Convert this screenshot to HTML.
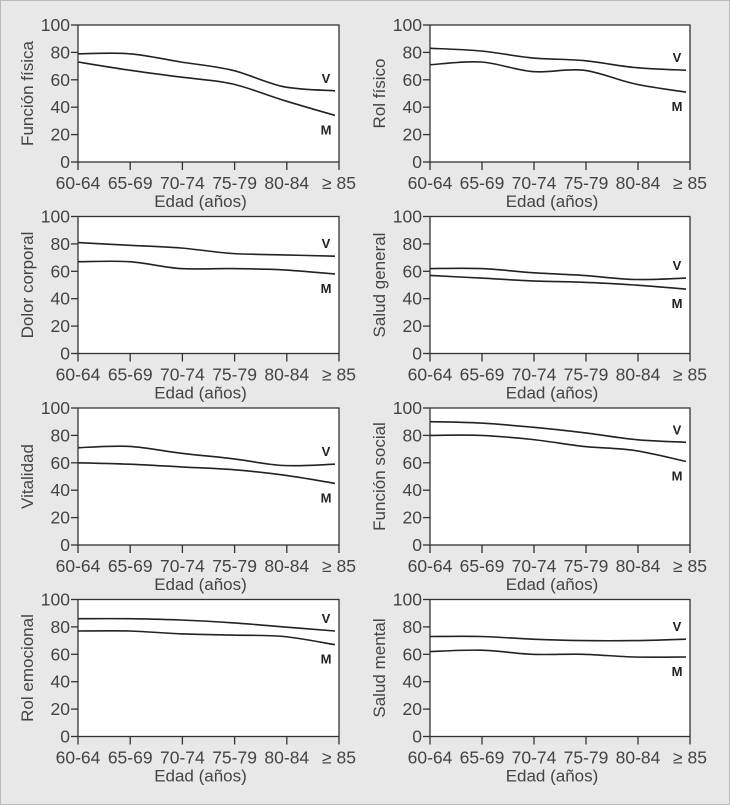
<!DOCTYPE html>
<html><head><meta charset="utf-8"><style>
html,body{margin:0;padding:0;background:#e8e8e8;}
svg{display:block;font-family:"Liberation Sans",sans-serif;}
</style></head><body>
<svg id="c" width="730" height="805">
<rect x="0.5" y="0.5" width="729" height="804" fill="#e8e8e8" stroke="#bbb"/>
</svg>
<script>
const categories = ["60-64","65-69","70-74","75-79","80-84","≥ 85"];
const yTicks = [0,20,40,60,80,100];
const panelTitles = ["Función física","Rol físico","Dolor corporal","Salud general","Vitalidad","Función social","Rol emocional","Salud mental"];
const seriesV = [
 [79,79,73,67,55,52],
 [83,81,76,74,69,67],
 [81,79,77,73,72,71],
 [62,62,59,57,54,55],
 [71,72,67,63,58,59],
 [90,89,86,82,77,75],
 [86,86,85,83,80,77],
 [73,73,71,70,70,71]
];
const seriesM = [
 [73,67,62,57,45,34],
 [71,73,66,67,57,51],
 [67,67,62,62,61,58],
 [57,55,53,52,50,47],
 [60,59,57,55,51,45],
 [80,80,77,72,69,61],
 [77,77,75,74,73,67],
 [62,63,60,60,58,58]
];
const NS="http://www.w3.org/2000/svg";
const svg=document.getElementById('c');
function mk(tag,attrs,parent){const e=document.createElementNS(NS,tag);for(const k in attrs)e.setAttribute(k,attrs[k]);(parent||svg).appendChild(e);return e;}
function smooth(pts){let d="M"+pts[0][0]+","+pts[0][1];for(let i=0;i<pts.length-1;i++){const p0=pts[Math.max(0,i-1)],p1=pts[i],p2=pts[i+1],p3=pts[Math.min(pts.length-1,i+2)];const c1=[p1[0]+(p2[0]-p0[0])/6,p1[1]+(p2[1]-p0[1])/6],c2=[p2[0]-(p3[0]-p1[0])/6,p2[1]-(p3[1]-p1[1])/6];d+=" C"+c1[0].toFixed(1)+","+c1[1].toFixed(1)+" "+c2[0].toFixed(1)+","+c2[1].toFixed(1)+" "+p2[0].toFixed(1)+","+p2[1].toFixed(1);}return d;}
const txtCol="#444";
panelTitles.forEach((t,i)=>{
 const col=i%2,row=Math.floor(i/2);
 const L=col?430:78, R=col?690:339, T=25+row*191.5, B=162+row*191.5;
 const g=mk('g',{});
 
 
 const xs=k=>L+(R-L-4)*k/(categories.length-1);
 const ys=v=>B-(B-T)*v/100;
 const bg=mk('rect',{x:L,y:T,width:R-L,height:B-T,fill:"#fff",stroke:"#333","stroke-width":1.3},g);
 
 yTicks.forEach(v=>{
  mk('line',{x1:L-7,x2:L,y1:ys(v),y2:ys(v),stroke:"#333","stroke-width":1.3},g);
  const tx=mk('text',{x:L-8,y:ys(v)+6,"text-anchor":"end","font-size":17.5,fill:txtCol},g);tx.textContent=v;
  
 });
 categories.forEach((c,k)=>{
  const x=L+(R-L)*k/(categories.length-1);
  mk('line',{x1:x,x2:x,y1:B,y2:B+8,stroke:"#333","stroke-width":1.3},g);
  const tx=mk('text',{x:x,y:B+27,"text-anchor":"middle","font-size":17.5,fill:txtCol},g);tx.textContent=c;
  
 });
 const xt=mk('text',{x:(L+R)/2-8,y:B+45,"text-anchor":"middle","font-size":17,fill:txtCol},g);xt.textContent="Edad (años)";
 
 const yt=mk('text',{x:0,y:0,"text-anchor":"middle","font-size":17,fill:txtCol,transform:`translate(${L-45},${(T+B)/2}) rotate(-90)`},g);yt.textContent=t;
 
 [[seriesV[i],'V',-1],[seriesM[i],'M',1]].forEach(([s,lab,dir])=>{
  const pts=s.map((v,k)=>[xs(k),ys(v)]);
  const p=mk('path',{d:smooth(pts),fill:"none",stroke:"#222","stroke-width":1.6},g);
  
  const last=pts[pts.length-1];
  const lt=mk('text',{x:R-13,y:last[1]+(dir<0?-8:19),"text-anchor":"middle","font-size":13,"font-weight":"bold",fill:"#222"},g);lt.textContent=lab;
  
 });
});
</script>
</body></html>
